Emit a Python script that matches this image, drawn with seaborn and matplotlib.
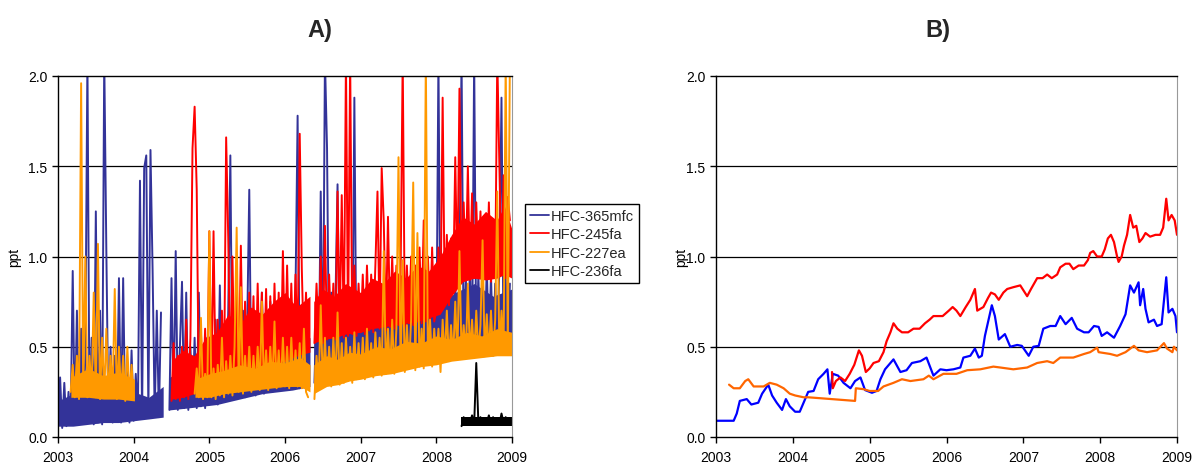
import numpy as np
import pandas as pd
import matplotlib
matplotlib.use("Agg")
import matplotlib.pyplot as plt
from matplotlib.lines import Line2D
from matplotlib.ticker import FormatStrFormatter
import seaborn as sns

nan = np.nan

# ---------------- data ----------------
YEARS = [2003, 2004, 2005, 2006, 2007, 2008, 2009]
Y_TICKS = [0.0, 0.5, 1.0, 1.5, 2.0]
COMPOUNDS = ["HFC-365mfc", "HFC-245fa", "HFC-227ea", "HFC-236fa"]
SAMPLES_PER_YEAR = 36  # panel A: one reading every ~10 days (alternating low / high)

# Panel A: in-situ records (ppt), start year + readings
hfc365mfc_start = 2003.0
hfc365mfc_a = [
    0.06, 0.33, 0.05, 0.30, 0.06, 0.25, 0.07, 0.92, 0.08, 0.70, 0.10, 0.60, 0.09, 0.45, 2.10, 0.08, 0.55, 0.07,
    1.25, 0.08, 0.70, 0.07, 2.10, 1.03, 0.09, 0.50, 0.08, 0.45, 0.09, 0.88, 0.08, 0.88, 0.09, 0.40, 0.08, 0.48,
    0.09, 0.35, 0.10, 1.42, 0.10, 1.49, 1.56, 0.12, 1.59, 0.93, 0.12, 0.70, 0.11, 0.69, nan, nan, nan, 0.15,
    0.88, 0.16, 1.03, 0.15, 0.50, 0.86, 0.16, 0.80, 0.15, 0.50, 0.17, 0.55, 0.16, 0.80, 0.17, 0.50, 0.16, 0.55,
    0.18, 0.50, 0.19, 0.65, 0.18, 0.84, 0.20, 0.60, 0.21, 0.70, 1.56, 0.22, 0.65, 0.21, 0.55, 0.23, 0.70, 0.22,
    0.60, 1.37, 0.24, 0.60, 0.23, 0.55, 0.25, 0.80, 0.24, 0.65, 0.26, 0.75, 0.25, 0.70, 0.27, 0.65, 0.26, 0.80,
    0.27, 0.70, 0.26, 0.65, 0.28, 0.80, 1.78, 0.27, 0.60, 0.28, 0.70, 0.29, nan, nan, 0.30, 0.70, 0.31, 1.36,
    0.30, 2.10, 1.60, 0.32, 0.80, 0.31, 0.75, 1.40, 0.33, 0.65, 0.32, 0.70, 0.34, 0.75, 0.33, 1.88, 0.34, 0.60,
    0.35, 0.70, 0.34, 0.80, 0.36, 0.65, 0.35, 0.75, 0.37, 0.85, 0.36, 0.70, 0.38, 0.75, 0.37, 0.80, 0.39, 0.70,
    0.38, 0.85, 0.40, 0.75, 0.39, 0.80, 0.41, 0.70, 0.40, 0.90, 0.42, 0.75, 0.41, 0.80, 0.43, 0.70, 0.42, 0.85,
    0.43, 2.10, 0.42, 0.80, 0.44, 0.75, 0.43, 0.90, 0.45, 0.85, 0.44, 0.95, 2.10, 0.45, 0.90, 0.46, 0.95, 0.45,
    2.10, 0.46, 0.90, 0.47, 0.85, 0.46, 0.95, 0.47, 0.90, 0.46, 0.85, 0.48, 0.95, 1.88, 0.47, 0.90, 0.48, 0.85,
]

hfc245fa_start = 2004.5
hfc245fa_a = [
    0.20, 0.52, 0.21, 0.45, 0.20, 0.50, 0.22, 0.65, 0.21, 0.55, 1.60, 1.83, 1.37, 0.23, 0.58, 0.24, 0.60, 0.23,
    1.14, 0.26, 1.14, 0.28, 0.65, 0.27, 0.70, 0.29, 1.66, 1.10, 0.30, 1.00, 0.31, 0.93, 0.30, 1.06, 0.32, 0.75,
    0.33, 0.80, 0.34, 0.78, 0.33, 0.85, 0.35, 0.80, 0.34, 0.82, 0.36, 0.78, 0.35, 0.85, 0.37, 0.80, 0.36, 1.03,
    0.42, 0.95, 0.43, 0.85, 0.44, 0.90, 0.45, 1.68, 0.93, 0.46, 0.80, 0.47, nan, nan, 0.52, 0.85, 0.53, 1.00,
    0.52, 1.17, 0.54, 0.90, 0.55, 0.85, 0.54, 1.36, 0.56, 1.34, 0.55, 2.10, 0.56, 2.10, 0.57, 0.95, 0.56, 0.85,
    0.58, 0.90, 0.57, 0.95, 0.59, 0.90, 0.58, 0.95, 1.36, 0.60, 1.49, 1.19, 0.59, 1.22, 0.61, 1.00, 0.60, 0.95,
    0.62, 0.90, 2.10, 0.61, 0.95, 0.63, 1.00, 0.62, 0.95, 0.64, 1.05, 0.63, 1.20, 0.64, 1.00, 0.65, 1.05, 0.64,
    0.70, 1.05, 0.72, 1.88, 0.74, 1.12, 0.73, 1.10, 0.80, 1.55, 0.85, 1.93, 0.88, 1.30, 0.90, 1.50, 0.87, 1.35,
    0.88, 1.30, 0.90, 1.25, 0.87, 1.20, 0.88, 1.30, 0.86, 1.20, 0.88, 2.10, 1.50, 0.90, 1.45, 0.88, 1.33, 1.20,
]

hfc227ea_start = 2003.0 + 6 / 36
hfc227ea_a = [
    0.25, 0.40, 0.22, 0.45, 0.21, 1.96, 0.23, 1.00, 0.22, 0.45, 0.24, 0.80, 0.22, 1.07, 0.21, 0.55, 0.23, 0.60,
    0.22, 0.45, 0.24, 0.82, 0.21, 0.50, 0.23, 0.45, 0.20, 0.50, 0.22, 0.40,
    0.22, nan, nan, nan, nan, nan, nan, nan, nan, nan, nan, nan, nan, nan, nan, nan, nan, nan,
    nan, nan, nan, nan, nan, nan, nan, nan, nan, nan, nan, 0.24, 0.38, 0.22, 0.66, 0.21, 0.35, 0.22,
    1.14, 0.22, 0.38, 0.21, 0.40, 0.23, 0.55, 0.22, 0.42, 0.24, 0.45, 0.23, 0.50, 1.16, 0.25, 0.83, 0.24, 0.45,
    0.26, 0.50, 0.25, 0.45, 0.27, 0.50, 0.26, 0.75, 0.27, 0.48, 0.26, 0.50, 0.28, 0.64, 0.27, 0.48, 0.28, 0.55,
    0.28, 0.50, 0.27, 0.55, 0.29, 0.48, 0.28, 0.52, 0.27, 0.60, 0.25, 0.22, nan, nan, 0.21, 0.45, 0.27, 0.73,
    0.28, 0.55, 0.29, 0.50, 0.28, 0.55, 0.30, 0.69, 0.29, 0.52, 0.30, 0.55, 0.31, 0.50, 0.30, 0.58, 0.32, 0.52,
    0.33, 0.55, 0.32, 0.60, 0.34, 0.52, 0.33, 0.58, 0.35, 0.55, 0.34, 1.03, 0.35, 0.60, 0.36, 0.65, 0.35, 0.60,
    1.55, 0.37, 0.98, 0.36, 0.62, 0.38, 0.65, 1.41, 0.37, 1.13, 0.39, 0.60, 0.38, 2.10, 0.40, 0.65, 0.39, 0.60,
    0.42, 0.60, 0.36, 0.65, 0.43, 0.70, 0.42, 0.62, 0.44, 0.75, 0.43, 1.03, 0.45, 0.62, 0.44, 0.85, 0.45, 0.65,
    0.44, 0.70, 0.46, 0.62, 1.09, 0.45, 0.68, 0.46, 0.70, 0.45, 0.65, 1.36, 0.46, 0.70, 0.47, 2.10, 0.48, 2.10,
]

hfc236fa_start = 2008.0 + 12 / 36
hfc236fa_a = [
    0.06, 0.11, 0.07, 0.10, 0.08, 0.12, 0.07, 0.41, 0.08, 0.11, 0.07, 0.10,
    0.08, 0.12, 0.07, 0.11, 0.08, 0.10, 0.07, 0.13, 0.08, 0.11, 0.07, 0.10,
]

# Panel A: envelope of the dense day-to-day scatter (decimal year, low, high); nan = data gap
hfc365mfc_band_year = [2003.00, 2003.20, 2003.40, 2003.60, 2003.80, 2004.00, 2004.20, 2004.39, nan,
                       2004.47, 2004.70, 2004.90, 2005.10, 2005.30, 2005.50, 2005.70, 2005.90, 2006.10, 2006.33, nan,
                       2006.38, 2006.60, 2006.80, 2007.00, 2007.25, 2007.50, 2007.75, 2008.00, 2008.25, 2008.50,
                       2008.75, 2009.00]
hfc365mfc_band_lo = [0.06, 0.06, 0.07, 0.08, 0.08, 0.09, 0.10, 0.11, nan,
                     0.15, 0.16, 0.17, 0.18, 0.20, 0.22, 0.24, 0.25, 0.26, 0.28, nan,
                     0.30, 0.31, 0.33, 0.34, 0.36, 0.37, 0.39, 0.41, 0.43, 0.44,
                     0.45, 0.47]
hfc365mfc_band_hi = [0.20, 0.24, 0.22, 0.26, 0.22, 0.25, 0.22, 0.28, nan,
                     0.33, 0.38, 0.36, 0.42, 0.45, 0.48, 0.52, 0.50, 0.56, 0.55, nan,
                     0.60, 0.66, 0.62, 0.66, 0.70, 0.68, 0.74, 0.72, 0.80, 0.85,
                     0.78, 0.82]

hfc245fa_band_year = [2004.50, 2004.65, 2004.80, 2004.95, 2005.10, 2005.25, 2005.40, 2005.55, 2005.70, 2005.85,
                      2006.00, 2006.15, 2006.33, nan, 2006.38, 2006.50, 2006.65, 2006.80, 2007.00, 2007.15,
                      2007.30, 2007.45, 2007.60, 2007.75, 2007.90, 2008.05, 2008.20, 2008.35, 2008.50, 2008.65,
                      2008.80, 2008.90, 2009.00]
hfc245fa_band_lo = [0.21, 0.22, 0.24, 0.26, 0.28, 0.30, 0.33, 0.36, 0.38, 0.40,
                    0.42, 0.45, 0.47, nan, 0.52, 0.54, 0.55, 0.57, 0.58, 0.60,
                    0.61, 0.62, 0.63, 0.64, 0.66, 0.68, 0.78, 0.86, 0.88, 0.87,
                    0.88, 0.90, 0.88]
hfc245fa_band_hi = [0.42, 0.48, 0.45, 0.55, 0.58, 0.68, 0.62, 0.72, 0.68, 0.75,
                    0.80, 0.72, 0.78, nan, 0.75, 0.82, 0.78, 0.85, 0.80, 0.88,
                    0.85, 0.92, 0.88, 0.95, 0.92, 1.00, 1.12, 1.22, 1.18, 1.25,
                    1.20, 1.28, 1.15]

hfc227ea_band_year = [2003.17, 2003.40, 2003.60, 2003.80, 2004.01, nan, 2004.81, 2005.00, 2005.20, 2005.40,
                      2005.60, 2005.80, 2006.00, 2006.20, 2006.33, nan, 2006.38, 2006.55, 2006.70, 2006.85,
                      2007.00, 2007.20, 2007.40, 2007.60, 2007.80, 2008.00, 2008.20, 2008.40, 2008.60, 2008.80,
                      2009.00]
hfc227ea_band_lo = [0.22, 0.22, 0.21, 0.21, 0.20, nan, 0.22, 0.22, 0.24, 0.25,
                    0.26, 0.27, 0.28, 0.28, 0.25, nan, 0.24, 0.28, 0.29, 0.31,
                    0.32, 0.34, 0.35, 0.37, 0.39, 0.40, 0.42, 0.43, 0.44, 0.45,
                    0.45]
hfc227ea_band_hi = [0.33, 0.38, 0.34, 0.36, 0.32, nan, 0.32, 0.35, 0.37, 0.40,
                    0.38, 0.42, 0.41, 0.44, 0.40, nan, 0.40, 0.45, 0.43, 0.47,
                    0.46, 0.50, 0.49, 0.53, 0.52, 0.56, 0.54, 0.58, 0.56, 0.60,
                    0.58]

hfc236fa_band_year = [2008.33, 2009.00]
hfc236fa_band_lo = [0.06, 0.06]
hfc236fa_band_hi = [0.11, 0.11]

# Panel B: smoothed baselines (decimal year, ppt)
blue_b_year = [2003.00, 2003.23, 2003.27, 2003.31, 2003.40, 2003.46, 2003.55, 2003.60, 2003.68, 2003.73,
               2003.79, 2003.86, 2003.91, 2003.96, 2004.03, 2004.09, 2004.14, 2004.20, 2004.27, 2004.33,
               2004.40, 2004.45, 2004.48, 2004.52, 2004.59, 2004.66, 2004.75, 2004.81, 2004.88, 2004.94,
               2005.03, 2005.09, 2005.14, 2005.20, 2005.31, 2005.40, 2005.48, 2005.55, 2005.66, 2005.74,
               2005.83, 2005.92, 2006.00, 2006.09, 2006.18, 2006.22, 2006.31, 2006.37, 2006.42, 2006.46,
               2006.50, 2006.59, 2006.63, 2006.68, 2006.76, 2006.83, 2006.92, 2006.98, 2007.07, 2007.13,
               2007.20, 2007.26, 2007.35, 2007.42, 2007.48, 2007.55, 2007.63, 2007.70, 2007.79, 2007.85,
               2007.92, 2007.98, 2008.02, 2008.09, 2008.18, 2008.26, 2008.33, 2008.39, 2008.44, 2008.50,
               2008.52, 2008.56, 2008.59, 2008.63, 2008.70, 2008.74, 2008.80, 2008.86, 2008.89, 2008.94,
               2008.98, 2009.00]
blue_b_ppt = [0.09, 0.09, 0.13, 0.20, 0.21, 0.18, 0.19, 0.24, 0.29, 0.23,
              0.19, 0.15, 0.21, 0.17, 0.14, 0.14, 0.19, 0.25, 0.255, 0.32,
              0.35, 0.375, 0.24, 0.35, 0.34, 0.30, 0.27, 0.31, 0.33, 0.26,
              0.245, 0.255, 0.32, 0.375, 0.43, 0.36, 0.37, 0.41, 0.42, 0.44,
              0.34, 0.375, 0.37, 0.375, 0.385, 0.44, 0.45, 0.49, 0.44, 0.45,
              0.56, 0.73, 0.67, 0.54, 0.57, 0.50, 0.51, 0.505, 0.45, 0.50,
              0.505, 0.60, 0.615, 0.615, 0.67, 0.625, 0.66, 0.60, 0.58, 0.58,
              0.615, 0.61, 0.56, 0.58, 0.55, 0.615, 0.68, 0.84, 0.80, 0.857,
              0.73, 0.82, 0.71, 0.635, 0.65, 0.615, 0.625, 0.885, 0.69, 0.71,
              0.67, 0.58]

red_b_year = [2004.51, 2004.52, 2004.56, 2004.62, 2004.68, 2004.74, 2004.80, 2004.86, 2004.90, 2004.95,
              2005.00, 2005.05, 2005.12, 2005.18, 2005.22, 2005.27, 2005.31, 2005.36, 2005.42, 2005.50,
              2005.57, 2005.65, 2005.72, 2005.78, 2005.83, 2005.95, 2006.03, 2006.08, 2006.13, 2006.18,
              2006.25, 2006.31, 2006.37, 2006.40, 2006.48, 2006.54, 2006.58, 2006.63, 2006.68, 2006.74,
              2006.79, 2006.87, 2006.96, 2007.02, 2007.05, 2007.10, 2007.18, 2007.25, 2007.31, 2007.37,
              2007.44, 2007.48, 2007.55, 2007.60, 2007.65, 2007.72, 2007.79, 2007.84, 2007.87, 2007.91,
              2007.96, 2008.02, 2008.06, 2008.10, 2008.14, 2008.18, 2008.22, 2008.24, 2008.28, 2008.31,
              2008.35, 2008.39, 2008.43, 2008.47, 2008.51, 2008.55, 2008.59, 2008.65, 2008.72, 2008.78,
              2008.82, 2008.86, 2008.89, 2008.93, 2008.97, 2009.00]
red_b_ppt = [0.36, 0.27, 0.31, 0.33, 0.31, 0.35, 0.40, 0.48, 0.45, 0.36,
             0.38, 0.41, 0.42, 0.47, 0.53, 0.58, 0.63, 0.60, 0.58, 0.58,
             0.60, 0.60, 0.63, 0.65, 0.67, 0.67, 0.70, 0.72, 0.70, 0.67,
             0.72, 0.76, 0.82, 0.70, 0.72, 0.77, 0.80, 0.79, 0.76, 0.80,
             0.82, 0.83, 0.84, 0.80, 0.78, 0.82, 0.88, 0.88, 0.90, 0.88,
             0.90, 0.94, 0.96, 0.96, 0.93, 0.95, 0.95, 0.98, 1.02, 1.03,
             1.00, 1.00, 1.04, 1.10, 1.12, 1.08, 1.00, 0.97, 1.00, 1.06,
             1.12, 1.23, 1.16, 1.17, 1.08, 1.10, 1.13, 1.11, 1.12, 1.12,
             1.16, 1.32, 1.20, 1.23, 1.20, 1.12]

orange_b_year = [2003.17, 2003.23, 2003.31, 2003.38, 2003.42, 2003.49, 2003.62, 2003.70, 2003.79, 2003.88,
                 2003.96, 2004.03, 2004.14, 2004.20, 2004.81, 2004.82, 2004.92, 2005.00, 2005.11, 2005.18,
                 2005.31, 2005.42, 2005.53, 2005.70, 2005.77, 2005.83, 2005.96, 2006.13, 2006.27, 2006.44,
                 2006.61, 2006.70, 2006.87, 2007.05, 2007.18, 2007.31, 2007.39, 2007.48, 2007.65, 2007.79,
                 2007.87, 2007.96, 2007.98, 2008.13, 2008.22, 2008.33, 2008.44, 2008.50, 2008.61, 2008.74,
                 2008.83, 2008.87, 2008.94, 2008.96, 2009.00]
orange_b_ppt = [0.29, 0.27, 0.27, 0.31, 0.32, 0.28, 0.28, 0.30, 0.29, 0.27,
                0.24, 0.23, 0.22, 0.22, 0.20, 0.27, 0.265, 0.255, 0.255, 0.28,
                0.30, 0.32, 0.31, 0.32, 0.34, 0.32, 0.35, 0.35, 0.37, 0.375,
                0.39, 0.385, 0.375, 0.385, 0.41, 0.42, 0.41, 0.44, 0.44, 0.46,
                0.47, 0.495, 0.47, 0.46, 0.45, 0.47, 0.505, 0.48, 0.47, 0.48,
                0.52, 0.49, 0.47, 0.50, 0.48]

COLORS_A = {"HFC-365mfc": "#333399", "HFC-245fa": "#FF0000",
            "HFC-227ea": "#FF9900", "HFC-236fa": "#000000"}
COLORS_B = {"HFC-365mfc": "#0000FF", "HFC-245fa": "#FF0000", "HFC-227ea": "#FF6600"}


def record_frame(name, start, values):
    v = np.asarray(values, dtype=float)
    years = start + np.arange(len(v)) / SAMPLES_PER_YEAR
    seg = np.cumsum(np.isnan(v))
    df = pd.DataFrame({"year": years, "ppt": v, "seg": seg, "compound": name})
    return df.dropna()


def band_frame(name, years, lo, hi):
    y = np.asarray(years, dtype=float)
    seg = np.cumsum(np.isnan(y))
    df = pd.DataFrame({"year": y, "lo": lo, "hi": hi, "seg": seg, "compound": name})
    return df.dropna()


records_a = {
    "HFC-365mfc": record_frame("HFC-365mfc", hfc365mfc_start, hfc365mfc_a),
    "HFC-245fa": record_frame("HFC-245fa", hfc245fa_start, hfc245fa_a),
    "HFC-227ea": record_frame("HFC-227ea", hfc227ea_start, hfc227ea_a),
    "HFC-236fa": record_frame("HFC-236fa", hfc236fa_start, hfc236fa_a),
}
bands_a = {
    "HFC-365mfc": band_frame("HFC-365mfc", hfc365mfc_band_year, hfc365mfc_band_lo, hfc365mfc_band_hi),
    "HFC-245fa": band_frame("HFC-245fa", hfc245fa_band_year, hfc245fa_band_lo, hfc245fa_band_hi),
    "HFC-227ea": band_frame("HFC-227ea", hfc227ea_band_year, hfc227ea_band_lo, hfc227ea_band_hi),
    "HFC-236fa": band_frame("HFC-236fa", hfc236fa_band_year, hfc236fa_band_lo, hfc236fa_band_hi),
}

df_b = pd.concat([
    pd.DataFrame({"year": blue_b_year, "ppt": blue_b_ppt, "compound": "HFC-365mfc"}),
    pd.DataFrame({"year": red_b_year, "ppt": red_b_ppt, "compound": "HFC-245fa"}),
    pd.DataFrame({"year": orange_b_year, "ppt": orange_b_ppt, "compound": "HFC-227ea"}),
], ignore_index=True)

# ---------------- style ----------------
sns.set_theme(style="white")
plt.rcParams["font.family"] = ["Liberation Sans", "DejaVu Sans"]
plt.rcParams["axes.unicode_minus"] = False

W, H = 1199, 464
fig = plt.figure(figsize=(W / 100, H / 100), dpi=100)
ax_a = fig.add_axes([58 / W, 1 - 438 / H, (512 - 58) / W, (438 - 77) / H])
ax_b = fig.add_axes([716 / W, 1 - 438 / H, (1177 - 716) / W, (438 - 77) / H])

for name in COMPOUNDS:
    band = bands_a[name]
    for _, part in band.groupby("seg"):
        ax_a.fill_between(part["year"], part["lo"], part["hi"], color=COLORS_A[name],
                          linewidth=0, zorder=2)
    sns.lineplot(data=records_a[name], x="year", y="ppt", units="seg", estimator=None,
                 sort=False, color=COLORS_A[name], linewidth=1.4, legend=False, ax=ax_a,
                 zorder=2)

sns.lineplot(data=df_b, x="year", y="ppt", hue="compound", hue_order=COMPOUNDS[:3],
             palette=COLORS_B, estimator=None, sort=False,
             linewidth=1.6, legend=False, ax=ax_b)

for ax in (ax_a, ax_b):
    ax.set_xlim(YEARS[0], YEARS[-1])
    ax.set_ylim(Y_TICKS[0], Y_TICKS[-1])
    ax.set_xticks(YEARS)
    ax.set_xticklabels([str(y) for y in YEARS])
    ax.set_yticks(Y_TICKS)
    ax.yaxis.set_major_formatter(FormatStrFormatter("%.1f"))
    for yv in Y_TICKS[1:-1]:
        ax.axhline(yv, color="black", linewidth=0.9, zorder=0.5)
    ax.set_xlabel("")
    ax.set_ylabel("ppt", fontsize=10, color="black")
    ax.tick_params(axis="both", which="major", direction="out", length=4.5, width=1,
                   color="black", labelsize=10, labelcolor="black", bottom=True, left=True)
    ax.tick_params(axis="x", pad=5)
    ax.tick_params(axis="y", pad=3)
    for side in ("left", "bottom", "top"):
        ax.spines[side].set_visible(True)
        ax.spines[side].set_color("black")
        ax.spines[side].set_linewidth(1.0)
    ax.spines["right"].set_visible(True)
    ax.spines["right"].set_color("#999999")
    ax.spines["right"].set_linewidth(0.8)
    ax.set_facecolor("white")

ax_a.yaxis.set_label_coords(-0.082, 0.5)
ax_b.yaxis.set_label_coords(-0.061, 0.5)

handles = [Line2D([0], [0], color=COLORS_A[c], linewidth=1.3) for c in COMPOUNDS]
leg = ax_a.legend(handles, COMPOUNDS, loc="upper left",
                  bbox_to_anchor=(525 / W, 1 - 205 / H), bbox_transform=fig.transFigure,
                  fontsize=10.5, frameon=True, fancybox=False, framealpha=1,
                  edgecolor="black", handlelength=1.3, handletextpad=0.15,
                  labelspacing=0.3, borderpad=0.35, borderaxespad=0)
leg.get_frame().set_linewidth(1.0)

fig.text(320 / W, 1 - 30 / H, "A)", ha="center", va="center", fontsize=17, fontweight="bold")
fig.text(938 / W, 1 - 30 / H, "B)", ha="center", va="center", fontsize=17, fontweight="bold")

fig.savefig("out.png", dpi=100, facecolor="white")
